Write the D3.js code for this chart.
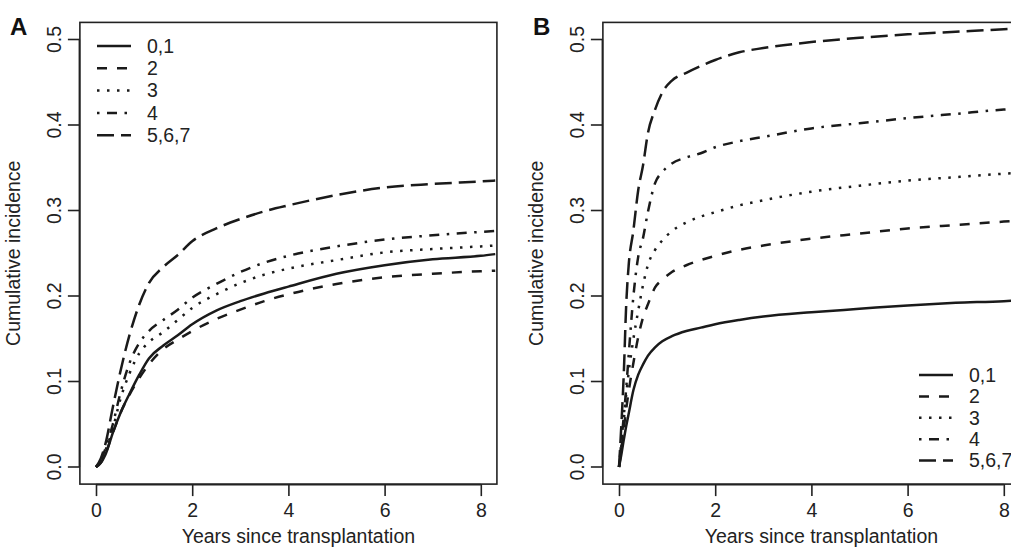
<!DOCTYPE html>
<html>
<head>
<meta charset="utf-8">
<script src="https://cdn.jsdelivr.net/npm/d3@7"></script>
<style>
	body { margin: 0; background: #fff; }
	svg { display: block; font-family: 'Liberation Sans', Arial, sans-serif; }
</style>
</head>
<body>
<div id="chart"></div>
<script>
const groups = ['0,1', '2', '3', '4', '5,6,7'];
const xTicks = [0, 2, 4, 6, 8];
const yTicks = [0.0, 0.1, 0.2, 0.3, 0.4, 0.5];

const yearsA = [0, 0.1, 0.2, 0.35, 0.5, 0.7, 0.9, 1.1, 1.4, 1.7, 2, 2.5, 3, 3.5, 4, 5, 6, 7, 8, 8.3];
const incA01 = [0, 0.005, 0.015, 0.04, 0.062, 0.086, 0.108, 0.127, 0.142, 0.154, 0.167, 0.183, 0.194, 0.203, 0.211, 0.226, 0.236, 0.243, 0.247, 0.249];
const incA2 = [0, 0.005, 0.016, 0.04, 0.062, 0.085, 0.104, 0.12, 0.138, 0.149, 0.159, 0.173, 0.184, 0.194, 0.202, 0.214, 0.222, 0.226, 0.229, 0.2296];
const incA3 = [0, 0.007, 0.02, 0.045, 0.078, 0.11, 0.133, 0.146, 0.158, 0.172, 0.186, 0.202, 0.215, 0.225, 0.232, 0.242, 0.251, 0.255, 0.258, 0.259];
const incA4 = [0, 0.008, 0.022, 0.05, 0.085, 0.122, 0.145, 0.159, 0.172, 0.184, 0.198, 0.214, 0.228, 0.239, 0.247, 0.258, 0.266, 0.271, 0.275, 0.276];
const incA567 = [0, 0.01, 0.028, 0.07, 0.11, 0.155, 0.19, 0.215, 0.234, 0.248, 0.264, 0.279, 0.29, 0.299, 0.306, 0.318, 0.327, 0.331, 0.334, 0.335];

const yearsB = [0, 0.05, 0.1, 0.15, 0.2, 0.3, 0.4, 0.5, 0.6, 0.75, 0.9, 1.1, 1.4, 1.7, 2, 2.5, 3, 4, 5, 6, 7, 8, 8.3];
const incB01 = [0, 0.015, 0.032, 0.048, 0.062, 0.09, 0.108, 0.12, 0.13, 0.14, 0.147, 0.153, 0.159, 0.163, 0.167, 0.172, 0.176, 0.181, 0.185, 0.189, 0.192, 0.194, 0.195];
const incB2 = [0, 0.02, 0.045, 0.068, 0.088, 0.122, 0.152, 0.175, 0.19, 0.21, 0.219, 0.228, 0.236, 0.242, 0.247, 0.254, 0.259, 0.267, 0.273, 0.279, 0.283, 0.287, 0.288];
const incB3 = [0, 0.025, 0.055, 0.085, 0.11, 0.15, 0.183, 0.213, 0.236, 0.254, 0.265, 0.276, 0.286, 0.293, 0.298, 0.306, 0.312, 0.322, 0.329, 0.335, 0.339, 0.343, 0.344];
const incB4 = [0, 0.03, 0.06, 0.092, 0.13, 0.2, 0.246, 0.268, 0.298, 0.332, 0.345, 0.355, 0.362, 0.367, 0.374, 0.381, 0.386, 0.396, 0.402, 0.408, 0.413, 0.418, 0.419];
const incB567 = [0, 0.05, 0.11, 0.19, 0.235, 0.277, 0.324, 0.353, 0.39, 0.418, 0.438, 0.452, 0.461, 0.469, 0.476, 0.485, 0.49, 0.497, 0.502, 0.506, 0.509, 0.512, 0.513];

// R lty 1..5 at lwd ~2.5
const dashes = ['none', '10,10', '2.5,7.5', '2.5,7.5,10,7.5', '17,7'];

class Panel {
	constructor({ svg, label, years, series, origin, legend }) {
		this.svg = svg;
		this.label = label;
		this.years = years;
		this.series = series;
		this.origin = origin;
		this.legend = legend;

		this.draw();
	}

	draw() {
		this.plot = this.svg.append('g');
		this.createScales();
		this.addLines();
		this.addAxes();
		this.addLegend();
	}

	createScales() {
		const o = this.origin;
		const unitX = 48.1;
		const unitY = 855;

		this.xScale = d3.scaleLinear()
			.domain([0, 8])
			.range([o.x, o.x + 8 * unitX]);

		this.yScale = d3.scaleLinear()
			.domain([0, 0.5])
			.range([o.y, o.y - 0.5 * unitY]);
	}

	addAxes() {
		const x = this.xScale;
		const y = this.yScale;
		const left = x(-0.335);
		const right = x(8.335);
		const top = y(0.52);
		const bottom = y(-0.02);

		this.plot.append('rect')
			.attr('x', left)
			.attr('y', top)
			.attr('width', right - left)
			.attr('height', bottom - top)
			.attr('fill', 'none')
			.attr('stroke', '#222')
			.attr('stroke-width', 1.6);

		const xAxis = d3.axisBottom(x)
			.tickValues(xTicks)
			.tickFormat(d3.format('d'))
			.tickSize(12)
			.tickPadding(7)
			.tickSizeOuter(0);

		const xg = this.plot.append('g')
			.attr('transform', `translate(0,${bottom})`)
			.call(xAxis);
		xg.select('.domain')
			.attr('d', `M${x(0)},0.5H${x(8)}`);

		const yAxis = d3.axisLeft(y)
			.tickValues(yTicks)
			.tickFormat(d3.format('.1f'))
			.tickSize(12)
			.tickPadding(6)
			.tickSizeOuter(0);

		const yg = this.plot.append('g')
			.attr('transform', `translate(${left},0)`)
			.call(yAxis);
		yg.select('.domain')
			.attr('d', `M-0.5,${y(0)}V${y(0.5)}`);

		// rotated tick labels, as R draws them
		yg.selectAll('.tick text')
			.attr('x', -18.5)
			.attr('dy', 0)
			.attr('text-anchor', 'middle')
			.attr('transform', (d) => `rotate(-90,-18.5,${y(d)})`)
			.attr('y', (d) => y(d));
		yg.selectAll('.tick').attr('transform', null);
		yg.selectAll('.tick line')
			.attr('y1', (d) => y(d))
			.attr('y2', (d) => y(d));

		[xg, yg].forEach((g) => {
			g.selectAll('line, path').attr('stroke', '#222').attr('stroke-width', 1.6);
			g.selectAll('text')
				.attr('fill', '#222')
				.style('font-size', '19.5px')
				.style('font-family', "'Liberation Sans', Arial, sans-serif");
		});

		this.plot.append('text')
			.attr('x', (left + right) / 2 + 10)
			.attr('y', 543)
			.attr('text-anchor', 'middle')
			.attr('fill', '#222')
			.style('font-size', '19.5px')
			.text('Years since transplantation');

		this.plot.append('text')
			.attr('transform', `translate(${left - 60},${(top + bottom) / 2}) rotate(-90)`)
			.attr('text-anchor', 'middle')
			.attr('fill', '#222')
			.style('font-size', '19.5px')
			.text('Cumulative incidence');

		this.plot.append('text')
			.attr('x', left - 70)
			.attr('y', 35)
			.attr('fill', '#111')
			.style('font-size', '24px')
			.style('font-weight', 'bold')
			.text(this.label);
	}

	addLines() {
		const line = d3.line()
			.x((d) => this.xScale(d[0]))
			.y((d) => this.yScale(d[1]))
			.curve(d3.curveMonotoneX);

		this.plot.selectAll('.curve')
			.data(this.series)
			.enter()
			.append('path')
			.attr('class', 'curve')
			.attr('d', (s) => line(this.years.map((t, i) => [t, s[i]])))
			.attr('fill', 'none')
			.attr('stroke', '#1a1a1a')
			.attr('stroke-width', 2.5)
			.attr('stroke-dasharray', (s, i) => dashes[i]);
	}

	addLegend() {
		const l = this.legend;
		const rows = this.plot.selectAll('.legend')
			.data(groups)
			.enter()
			.append('g')
			.attr('class', 'legend')
			.attr('transform', (d, i) => `translate(${l.x},${l.y + i * l.step})`);

		rows.append('line')
			.attr('x1', 0)
			.attr('x2', 34)
			.attr('stroke', '#1a1a1a')
			.attr('stroke-width', 2.5)
			.attr('stroke-dasharray', (d, i) => dashes[i]);

		rows.append('text')
			.attr('x', 50)
			.attr('dy', '0.35em')
			.attr('fill', '#222')
			.style('font-size', '19.5px')
			.text((d) => d);
	}
}

const svg = d3.select('#chart')
	.append('svg')
	.attr('width', 1011)
	.attr('height', 548);

new Panel({
	svg,
	label: 'A',
	years: yearsA,
	series: [incA01, incA2, incA3, incA4, incA567],
	origin: { x: 96, y: 467 },
	legend: { x: 97, y: 46, step: 22.3 },
});

new Panel({
	svg,
	label: 'B',
	years: yearsB,
	series: [incB01, incB2, incB3, incB4, incB567],
	origin: { x: 619, y: 467 },
	legend: { x: 919, y: 375, step: 21.4 },
});
</script>
</body>
</html>
